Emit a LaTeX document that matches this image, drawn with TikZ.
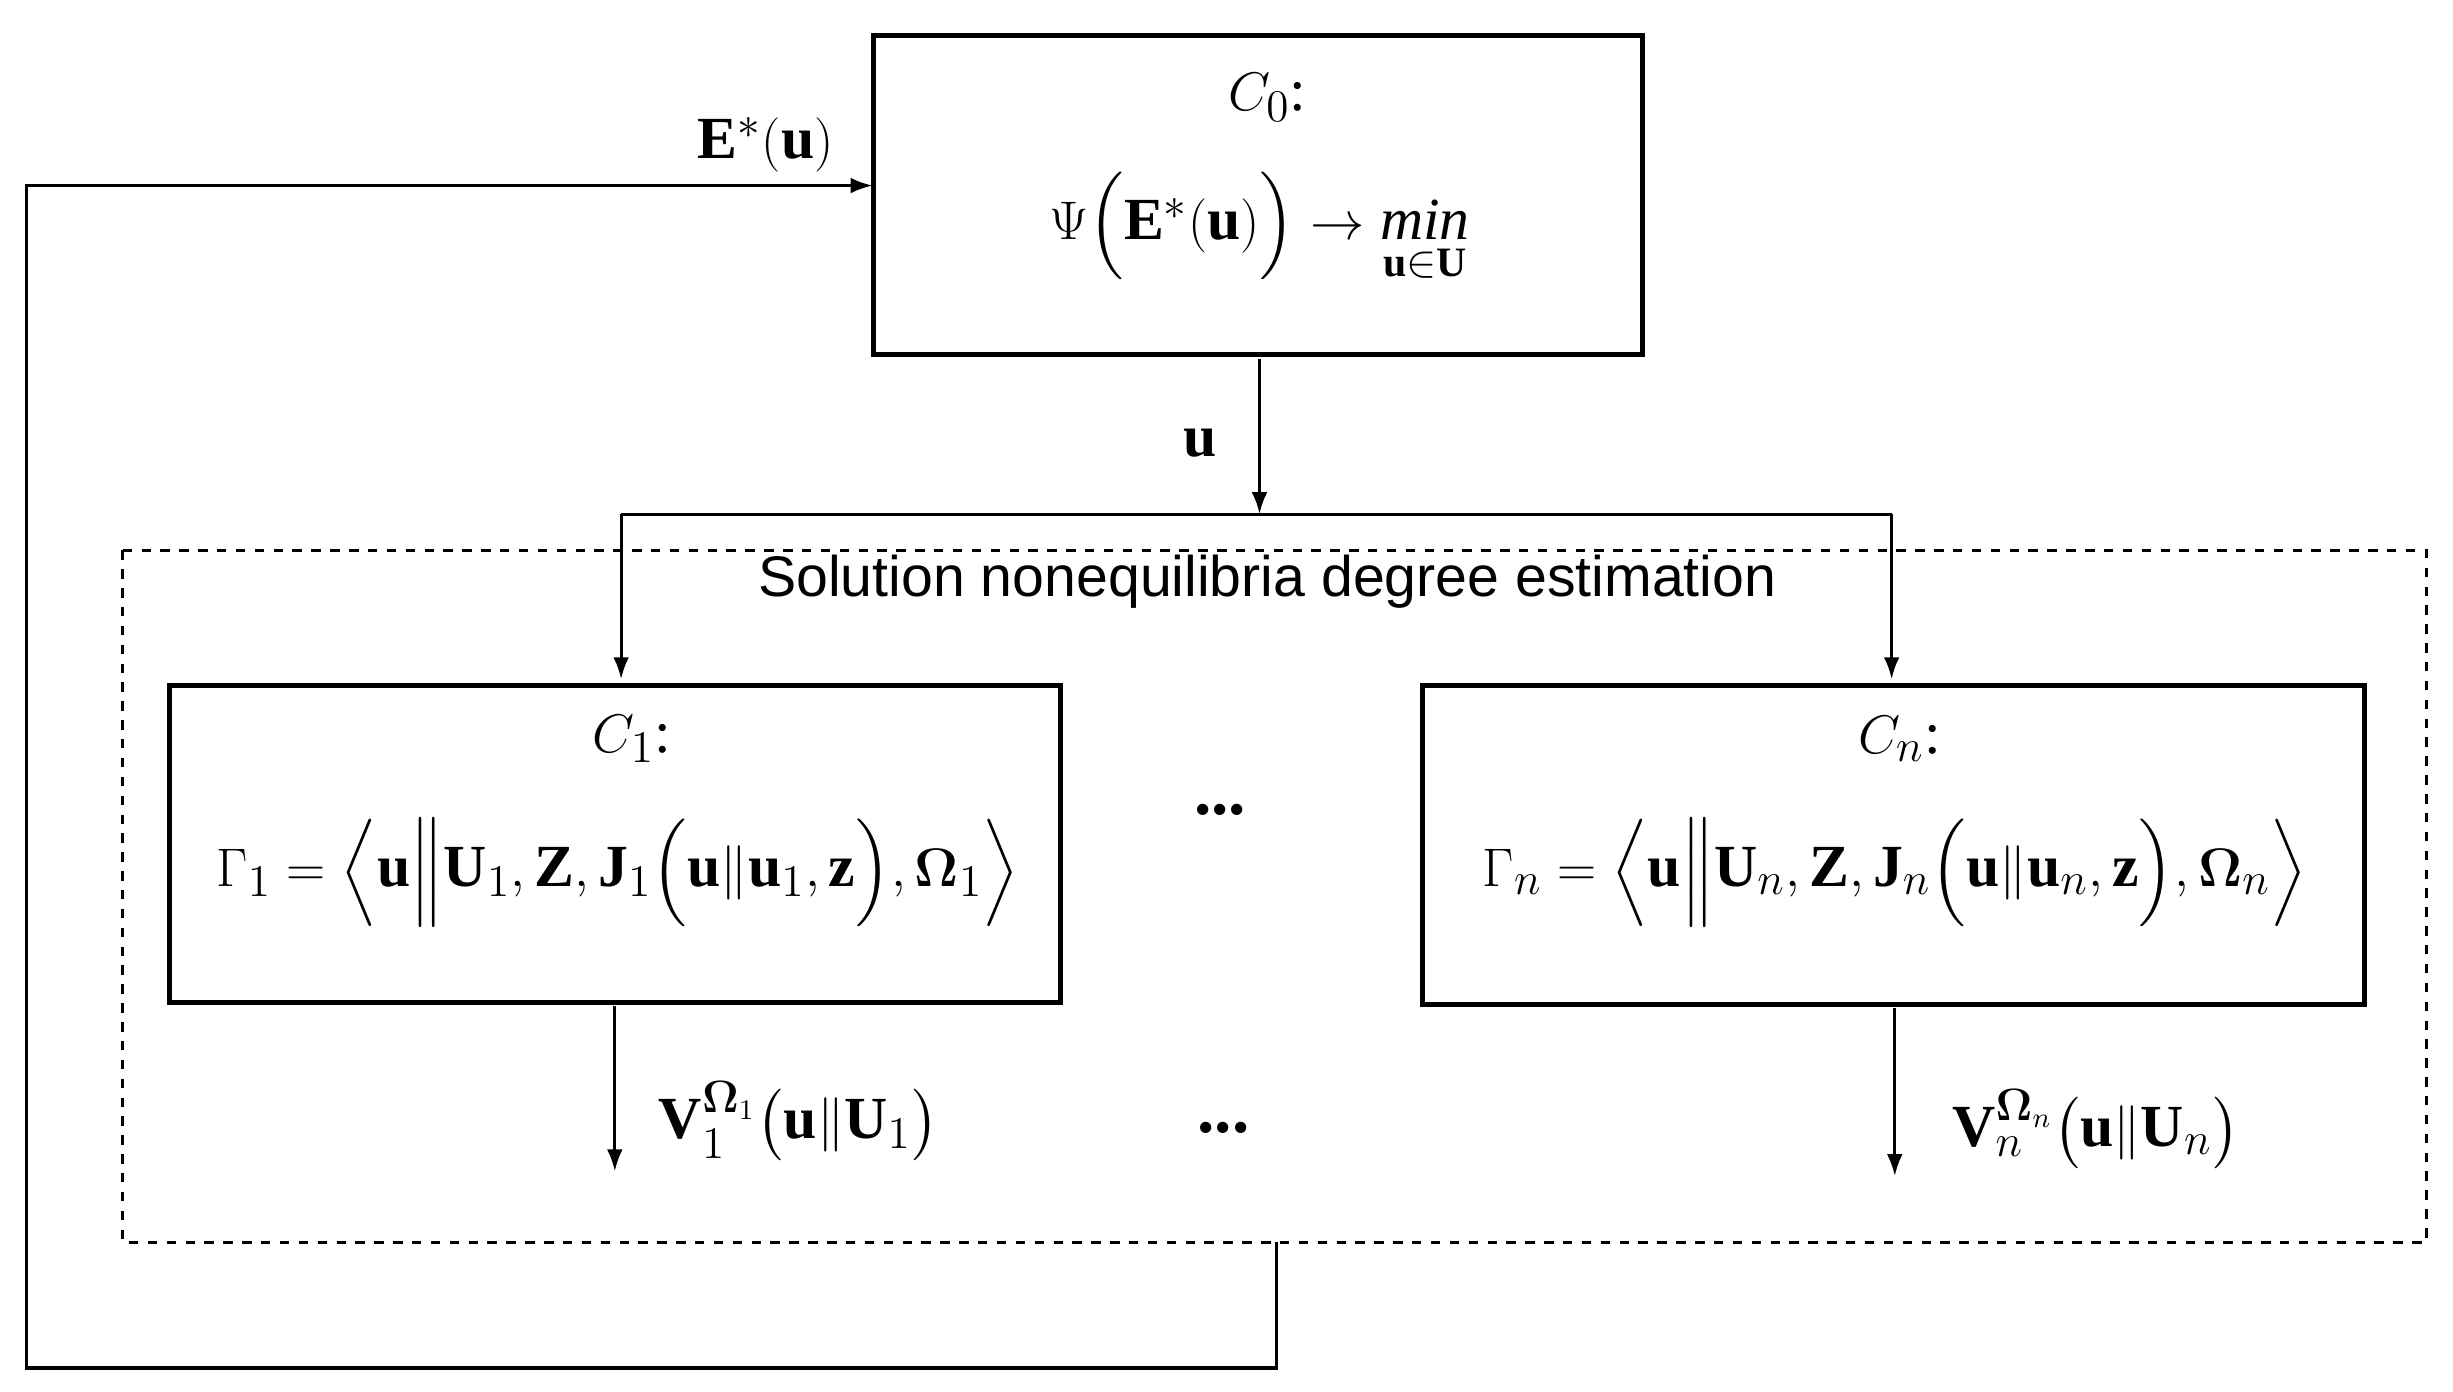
\documentclass[tikz,border=0pt]{standalone}
\usepackage{fontspec}
\usepackage{amsmath,amssymb}
\usetikzlibrary{arrows.meta}
\setmainfont{Liberation Serif}
\newfontfamily\sansf{Liberation Sans}
\begin{document}
\begin{tikzpicture}[x=0.5pt,y=-0.5pt,
  box/.style={draw,line width=1.6pt,inner sep=0pt,outer sep=0pt},
  arr/.style={-{Latex[length=7pt,width=5pt]},line width=1pt},
  mth/.style={font=\fontsize{19}{22}\selectfont,inner sep=1pt}]
\useasboundingbox (0,0) rectangle (1560,885);
\fill[white] (0,0) rectangle (1560,885);
% boxes
\node[box,minimum width=244.4pt,minimum height=101.4pt,anchor=north west] (c0) at (555.8,22.8) {};
\node[box,minimum width=283.4pt,minimum height=100.9pt,anchor=north west] (c1) at (107.8,435.8) {};
\node[box,minimum width=299.4pt,minimum height=101.4pt,anchor=north west] (cn) at (904.8,435.8) {};
\draw[dashed,line width=0.8pt] (78,350) rectangle (1543,790);
\node[font=\sansf\fontsize{18.2}{20}\selectfont] (t) at (806,370) {Solution nonequilibria degree estimation};
% texts
\node[mth] (c0a) at (806,62) {$C_0$:};
\node[mth] (c0b) at (801,145) {$\Psi\Big(\mathbf{E}^*(\mathbf{u})\Big)\rightarrow \underset{\mathbf{u}\in\mathbf{U}}{\mathit{min}}$};
\node[mth] (c1a) at (402,470) {$C_1$:};
\node[mth] (c1b) at (393,555) {$\Gamma_1=\Big\langle \mathbf{u}\Big\|\mathbf{U}_1,\mathbf{Z},\mathbf{J}_1\Big(\mathbf{u}\|\mathbf{u}_1,\mathbf{z}\Big),\boldsymbol{\Omega}_1\Big\rangle$};
\node[mth] (cna) at (1208,470) {$C_n$:};
\node[mth] (cnb) at (1205,555) {$\Gamma_n=\Big\langle \mathbf{u}\Big\|\mathbf{U}_n,\mathbf{Z},\mathbf{J}_n\Big(\mathbf{u}\|\mathbf{u}_n,\mathbf{z}\Big),\boldsymbol{\Omega}_n\Big\rangle$};
\node[font=\fontsize{22}{22}\selectfont\bfseries] (d1) at (776,515) {...};
\node[font=\fontsize{22}{22}\selectfont\bfseries] (d2) at (778,717) {...};
% arrows
\coordinate (s) at (801,327);
\coordinate (l) at (395,327);
\coordinate (r) at (1203,327);
\draw[arr] (801,228) -- (s);
\node[mth] (ul) at (763,282) {$\mathbf{u}$};
\draw[line width=1pt] (l) -- (r);
\draw[arr] (l) -- (395,432);
\draw[arr] (r) -- (1203,432);
\coordinate (o1) at (391,745);
\coordinate (on) at (1205,748);
\draw[arr] (391,640) -- (o1);
\draw[arr] (1205,641) -- (on);
\node[mth] (v1) at (508,713) {$\mathbf{V}_1^{\boldsymbol{\Omega}_1}\big(\mathbf{u}\|\mathbf{U}_1\big)$};
\node[mth] (vn) at (1333,718) {$\mathbf{V}_n^{\boldsymbol{\Omega}_n}\big(\mathbf{u}\|\mathbf{U}_n\big)$};
\draw[arr] (812,790) -- (812,870) -- (17,870) -- (17,118) -- (555,118);
\node[mth] (el) at (487,92) {$\mathbf{E}^*(\mathbf{u})$};
\end{tikzpicture}
\end{document}
